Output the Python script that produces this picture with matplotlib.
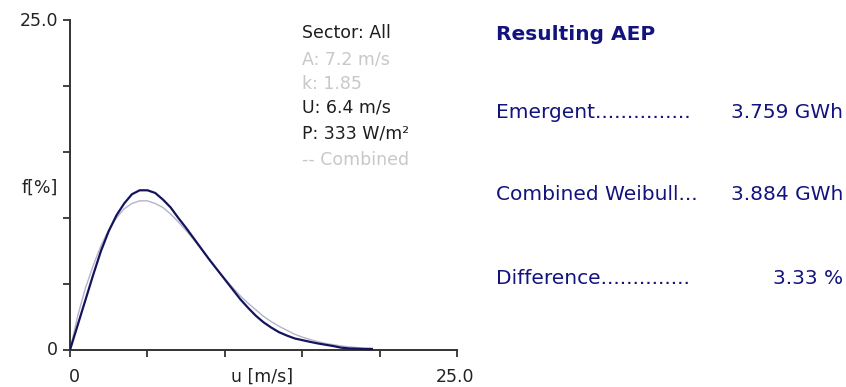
import matplotlib
matplotlib.use("Agg")
import matplotlib.pyplot as plt

# Wind speed bins [m/s]
wind_speed = [0.0, 0.5, 1.0, 1.5, 2.0, 2.5, 3.0, 3.5, 4.0, 4.5, 5.0, 5.5, 6.0,
              6.5, 7.0, 7.5, 8.0, 8.5, 9.0, 9.5, 10.0, 10.5, 11.0, 11.5, 12.0,
              12.5, 13.0, 13.5, 14.0, 14.5, 15.0, 15.5, 16.0, 16.5, 17.0, 17.5,
              18.0, 18.5, 19.0, 19.5]

# Emergent frequency distribution [%]
emergent = [0.0, 1.9, 3.8, 5.7, 7.5, 9.0, 10.2, 11.1, 11.8, 12.1, 12.1, 11.9,
            11.4, 10.8, 10.0, 9.25, 8.45, 7.65, 6.85, 6.1, 5.35, 4.6, 3.85,
            3.2, 2.6, 2.1, 1.7, 1.35, 1.1, 0.88, 0.75, 0.62, 0.5, 0.4, 0.3,
            0.18, 0.12, 0.1, 0.08, 0.08]

# Combined Weibull frequency distribution [%]
combined = [0.0, 2.6, 4.7, 6.4, 7.9, 9.1, 10.0, 10.7, 11.1, 11.3, 11.3, 11.1,
            10.8, 10.3, 9.7, 9.05, 8.35, 7.6, 6.85, 6.1, 5.4, 4.75, 4.1, 3.55,
            3.05, 2.55, 2.15, 1.8, 1.5, 1.2, 0.98, 0.8, 0.63, 0.5, 0.4, 0.31,
            0.24, 0.19, 0.14, 0.1]

sector_info = ["Sector: All", "A: 7.2 m/s", "k: 1.85", "U: 6.4 m/s",
               "P: 333 W/m²", "-- Combined"]
sector_info_dim = [False, True, True, False, False, True]

aep_title = "Resulting AEP"
aep_labels = ["Emergent...............", "Combined Weibull...",
              "Difference.............."]
aep_values = ["3.759 GWh", "3.884 GWh", "3.33 %"]

W, H = 846, 387
fig = plt.figure(figsize=(W / 100, H / 100), dpi=100)
fig.patch.set_facecolor("white")

ax_left, ax_bottom, ax_w, ax_h = 70, 350, 387, 330
ax = fig.add_axes([ax_left / W, (H - ax_bottom) / H, ax_w / W, ax_h / H])
ax.set_xlim(0, 25)
ax.set_ylim(0, 25)

axis_color = "#333333"
for side in ("top", "right"):
    ax.spines[side].set_visible(False)
for side in ("left", "bottom"):
    ax.spines[side].set_color(axis_color)
    ax.spines[side].set_linewidth(1.4)

ax.set_xticks([0, 5, 10, 15, 20, 25])
ax.set_yticks([0, 5, 10, 15, 20, 25])
ax.set_xticklabels([])
ax.set_yticklabels([])
ax.tick_params(axis="both", direction="out", length=5, width=1.3,
               color=axis_color)

ax.plot(wind_speed, combined, color="#b4b4c8", lw=1.0, zorder=2)
ax.plot(wind_speed, emergent, color="#14145e", lw=1.6, zorder=3)

label_kw = dict(fontsize=12.5, color="#222222", family="DejaVu Sans")

# axis annotations
fig.text(58 / W, 1 - 21 / H, "25.0", ha="right", va="center", **label_kw)
fig.text(58 / W, 1 - 188 / H, "f[%]", ha="right", va="center", **label_kw)
fig.text(58 / W, 1 - 350 / H, "0", ha="right", va="center", **label_kw)
fig.text(74 / W, 1 - 377 / H, "0", ha="center", va="center", **label_kw)
fig.text(262 / W, 1 - 377 / H, "u [m/s]", ha="center", va="center", **label_kw)
fig.text(455 / W, 1 - 377 / H, "25.0", ha="center", va="center", **label_kw)

# sector information block
info_y = [33, 60, 84, 108, 133, 160]
for txt, dim, y in zip(sector_info, sector_info_dim, info_y):
    fig.text(302 / W, 1 - y / H, txt, ha="left", va="center",
             fontsize=12.5, family="DejaVu Sans",
             color="#c8c8c8" if dim else "#1e1e1e")

# AEP summary panel
navy = "#13137f"
fig.text(496 / W, 1 - 35 / H, aep_title, ha="left", va="center",
         fontsize=14.5, fontweight="bold", color=navy, family="DejaVu Sans")
row_y = [113, 195, 278]
for lab, val, y in zip(aep_labels, aep_values, row_y):
    fig.text(496 / W, 1 - y / H, lab, ha="left", va="center",
             fontsize=14.5, color=navy, family="DejaVu Sans")
    fig.text(843 / W, 1 - y / H, val, ha="right", va="center",
             fontsize=14.5, color=navy, family="DejaVu Sans")

fig.savefig("out.png", dpi=100, facecolor="white")
